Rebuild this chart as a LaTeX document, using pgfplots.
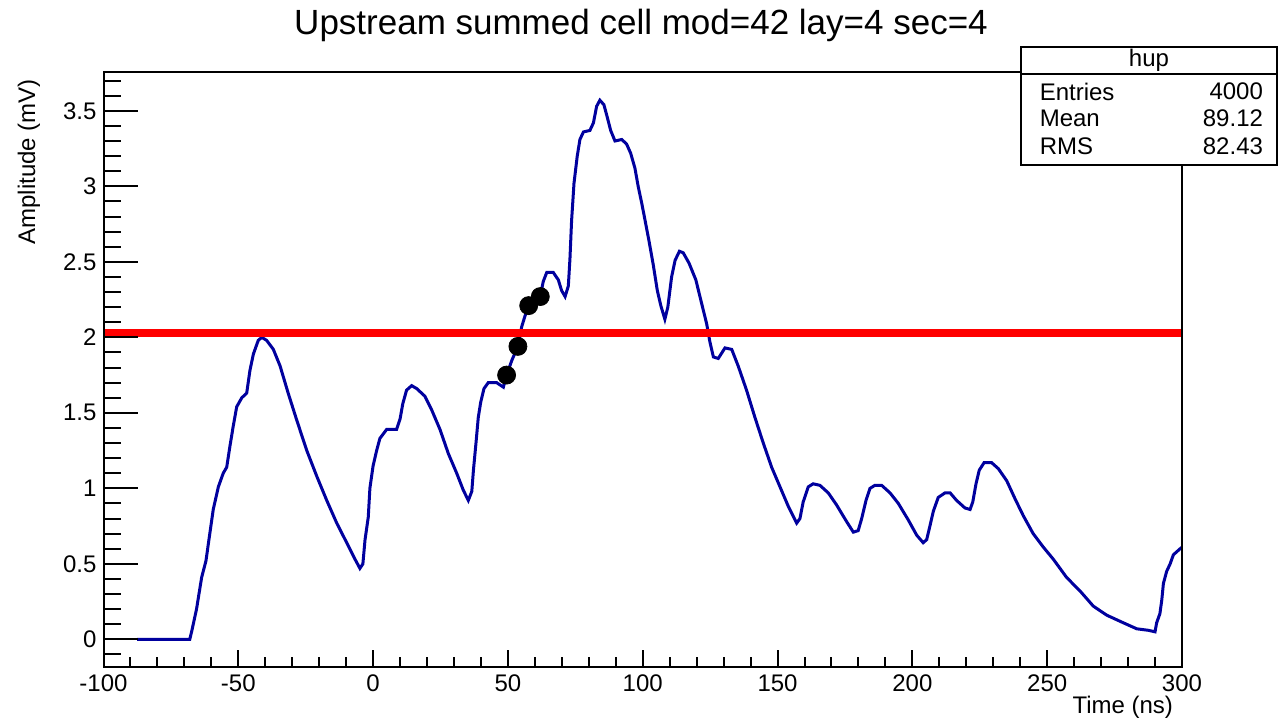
\documentclass[border=0pt]{standalone}
\usepackage{pgfplots}
\pgfplotsset{compat=1.18}
\usepackage{fontspec}
\setmainfont{Liberation Sans}
\definecolor{histblue}{rgb}{0.0,0.0,0.62}
\begin{document}
\begin{tikzpicture}
\useasboundingbox (0,0) rectangle (639.5pt,361pt);
\pgfplotsset{
  rootaxis/.style={
    at={(51.75pt,27.35pt)}, anchor=south west,
    scale only axis, width=539.25pt, height=297.5pt,
    xmin=-100, xmax=300, ymin=-0.185, ymax=3.755,
    axis line style={line width=1pt, black},
    tick align=inside, xtick pos=left, ytick pos=left,
    every tick/.style={black, line width=1pt},
    ticklabel style={font=\fontsize{12}{14}\selectfont},
    /pgf/number format/assume math mode=true,
  }
}
% x ticks + data
\begin{axis}[rootaxis,
  xtick={-100,-50,0,50,100,150,200,250,300},
  minor xtick={-90,-80,-70,-60,-40,-30,-20,-10,10,20,30,40,60,70,80,90,110,120,130,140,160,170,180,190,210,220,230,240,260,270,280,290},
  ytick=\empty,
  major tick length=8.5pt, minor tick length=5pt,
]
\addplot[histblue, line width=1.5pt, mark=none] coordinates {
(-87.5,0) (-68.0,0) (-67.2,0.06) (-65.5,0.20) (-63.6,0.41) (-62.0,0.52) (-60.5,0.71) (-59.3,0.86)
(-57.4,1.01) (-55.6,1.10) (-54.3,1.14) (-53.1,1.28) (-51.9,1.41) (-50.6,1.54) (-48.7,1.60) (-46.9,1.63)
(-45.7,1.78) (-44.4,1.89) (-42.6,1.98) (-41.3,2.00) (-39.5,1.98) (-37.0,1.92) (-34.5,1.81) (-31.5,1.63)
(-28.3,1.45) (-24.6,1.25) (-20.9,1.08) (-17.2,0.92) (-13.5,0.77) (-9.8,0.64) (-6.7,0.53) (-4.9,0.47)
(-3.8,0.50) (-3.0,0.66) (-1.8,0.81) (-1.2,1.00) (0.0,1.15) (1.3,1.25) (2.5,1.33) (5.0,1.39)
(8.7,1.39) (10.0,1.46) (11.0,1.56) (12.4,1.65) (14.3,1.68) (16.2,1.66) (19.2,1.61) (21.7,1.52)
(24.8,1.39) (27.9,1.23) (31.0,1.10) (33.4,0.99) (35.3,0.92) (36.6,0.98) (37.2,1.12) (38.2,1.31)
(39.0,1.47) (39.9,1.57) (41.1,1.66) (42.7,1.70) (45.8,1.70) (48.3,1.67) (49.5,1.75) (51.5,1.85)
(53.7,1.94) (55.1,2.07) (56.3,2.14) (57.7,2.21) (60.0,2.24) (62.0,2.27) (63.1,2.37) (64.4,2.43)
(66.8,2.43) (68.7,2.38) (69.9,2.31) (71.2,2.27) (72.4,2.34) (73.0,2.52) (73.6,2.77) (74.5,3.02)
(75.7,3.20) (76.7,3.31) (78.0,3.36) (80.4,3.37) (81.7,3.42) (82.9,3.53) (84.1,3.57) (85.6,3.54)
(86.8,3.46) (88.1,3.37) (89.7,3.30) (92.2,3.31) (94.0,3.28) (95.5,3.22) (97.1,3.12) (98.3,3.00)
(99.6,2.89) (100.8,2.78) (102.3,2.64) (103.9,2.48) (105.4,2.31) (106.7,2.21) (108.2,2.12) (109.3,2.20)
(110.7,2.40) (112.0,2.51) (113.6,2.57) (115.0,2.56) (117.2,2.49) (119.7,2.38) (121.9,2.22) (123.7,2.09)
(124.9,1.97) (126.2,1.87) (128.0,1.86) (130.5,1.93) (133.0,1.92) (135.4,1.81) (138.5,1.65) (141.6,1.47)
(144.7,1.30) (147.8,1.14) (150.9,1.01) (154.0,0.88) (157.1,0.77) (158.3,0.80) (159.5,0.91) (161.4,1.01)
(163.2,1.03) (165.7,1.02) (168.8,0.97) (171.9,0.89) (175.6,0.78) (178.1,0.71) (179.9,0.72) (181.2,0.80)
(182.8,0.92) (184.3,1.00) (186.1,1.02) (188.6,1.02) (191.7,0.97) (194.8,0.90) (198.5,0.79) (201.6,0.69)
(204.0,0.64) (205.3,0.66) (206.5,0.75) (207.8,0.85) (209.6,0.94) (212.1,0.97) (214.0,0.97) (216.4,0.92)
(219.5,0.87) (221.4,0.86) (222.4,0.91) (223.6,1.03) (224.8,1.12) (226.6,1.17) (229.4,1.17) (231.9,1.13)
(235.0,1.05) (238.1,0.93) (241.1,0.82) (244.8,0.70) (248.6,0.61) (252.3,0.53) (257.2,0.41) (262.2,0.32)
(267.1,0.22) (272.1,0.16) (278.2,0.11) (283.2,0.07) (287.5,0.06) (290.0,0.05) (290.6,0.11) (291.8,0.17)
(292.5,0.26) (293.1,0.37) (294.3,0.45) (295.6,0.50) (296.8,0.56) (299.3,0.60) (300,0.61)
};
\addplot[red, line width=3.8pt, mark=none] coordinates {(-100,2.03) (300,2.03)};
\addplot[only marks, mark=*, mark size=4.5pt, black] coordinates {
(49.5,1.75) (53.7,1.94) (57.7,2.21) (62.0,2.27)
};
\end{axis}
% y ticks
\begin{axis}[rootaxis,
  xtick=\empty,
  ytick={0,0.5,1,1.5,2,2.5,3,3.5},
  yticklabels={0,0.5,1,1.5,2,2.5,3,3.5},
  minor ytick={-0.1,0.1,0.2,0.3,0.4,0.6,0.7,0.8,0.9,1.1,1.2,1.3,1.4,1.6,1.7,1.8,1.9,2.1,2.2,2.3,2.4,2.6,2.7,2.8,2.9,3.1,3.2,3.3,3.4,3.6,3.7},
  major tick length=17pt, minor tick length=8.5pt,
]
\end{axis}
% title and axis labels
\node[anchor=base, font=\fontsize{17.5}{20}\selectfont] at (320.5pt,343.5pt) {Upstream summed cell mod=42 lay=4 sec=4};
\node[anchor=base east, font=\fontsize{12}{14}\selectfont] at (590pt,4pt) {Time (ns)};
\node[anchor=base east, rotate=90, font=\fontsize{12}{14}\selectfont] at (17.5pt,325pt) {Amplitude (mV)};
% stats box
\draw[line width=1pt, fill=white] (510.5pt,278.35pt) rectangle (638.5pt,337.35pt);
\draw[line width=1pt] (510.5pt,323.85pt) -- (638.5pt,323.85pt);
\node[font=\fontsize{12}{14}\selectfont] at (574.5pt,330.6pt) {hup};
\node[anchor=west, font=\fontsize{12}{14}\selectfont] at (516.35pt,315.15pt) {Entries};
\node[anchor=east, font=\fontsize{12}{14}\selectfont] at (635pt,315.15pt) {4000};
\node[anchor=west, font=\fontsize{12}{14}\selectfont] at (516.35pt,301.85pt) {Mean};
\node[anchor=east, font=\fontsize{12}{14}\selectfont] at (635pt,301.85pt) {89.12};
\node[anchor=west, font=\fontsize{12}{14}\selectfont] at (516.35pt,287.65pt) {RMS};
\node[anchor=east, font=\fontsize{12}{14}\selectfont] at (635pt,287.65pt) {82.43};
\end{tikzpicture}
\end{document}
